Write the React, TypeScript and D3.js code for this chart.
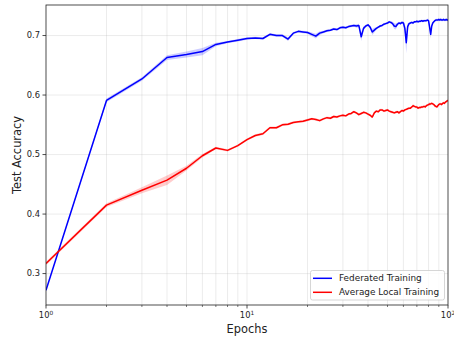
import React from "react";
import * as d3 from "d3";

const epochs: number[] = Array.from({ length: 100 }, (_, i) => i + 1);

const federated: number[] = [
  0.272, 0.591, 0.627, 0.663, 0.668, 0.673, 0.685, 0.689, 0.692, 0.695,
  0.696, 0.695, 0.702, 0.700, 0.700, 0.694, 0.704, 0.707, 0.706, 0.705,
  0.702, 0.699, 0.704, 0.706, 0.708, 0.709, 0.711, 0.710, 0.713, 0.714,
  0.713, 0.715, 0.716, 0.717, 0.716, 0.717, 0.698, 0.712, 0.716, 0.718,
  0.714, 0.706, 0.709, 0.712, 0.714, 0.716, 0.717, 0.719, 0.720, 0.721,
  0.723, 0.722, 0.720, 0.716, 0.715, 0.719, 0.721, 0.720, 0.722, 0.721,
  0.712, 0.688, 0.715, 0.720, 0.721, 0.722, 0.721, 0.723, 0.723, 0.724,
  0.723, 0.724, 0.724, 0.725, 0.724, 0.725, 0.725, 0.725, 0.726, 0.725,
  0.714, 0.702, 0.716, 0.721, 0.723, 0.725, 0.726, 0.726, 0.726, 0.727,
  0.726, 0.727, 0.726, 0.726, 0.727, 0.726, 0.726, 0.727, 0.726, 0.726,
];

const federatedStd: number[] = [
  0.001, 0.003, 0.003, 0.004, 0.005, 0.006, 0.003, 0.002, 0.002, 0.002,
  0.002, 0.002, 0.002, 0.002, 0.002, 0.003, 0.002, 0.002, 0.002, 0.002,
  0.003, 0.004, 0.003, 0.002, 0.002, 0.002, 0.002, 0.002, 0.002, 0.002,
  0.002, 0.002, 0.002, 0.002, 0.003, 0.003, 0.007, 0.004, 0.002, 0.002,
  0.003, 0.005, 0.004, 0.002, 0.002, 0.002, 0.002, 0.002, 0.002, 0.002,
  0.002, 0.002, 0.003, 0.005, 0.005, 0.003, 0.002, 0.002, 0.002, 0.003,
  0.008, 0.018, 0.006, 0.002, 0.002, 0.002, 0.002, 0.002, 0.002, 0.002,
  0.002, 0.002, 0.002, 0.002, 0.002, 0.002, 0.002, 0.002, 0.002, 0.003,
  0.006, 0.007, 0.004, 0.002, 0.002, 0.002, 0.002, 0.002, 0.002, 0.002,
  0.002, 0.002, 0.002, 0.002, 0.002, 0.002, 0.002, 0.002, 0.002, 0.002,
];

const local: number[] = [
  0.317, 0.415, 0.440, 0.457, 0.477, 0.498, 0.511, 0.507, 0.515, 0.525,
  0.532, 0.535, 0.545, 0.545, 0.550, 0.551, 0.554, 0.555, 0.556, 0.558,
  0.560, 0.559, 0.557, 0.560, 0.562, 0.561, 0.564, 0.563, 0.565, 0.566,
  0.565, 0.568, 0.569, 0.572, 0.570, 0.567, 0.569, 0.571, 0.570, 0.568,
  0.566, 0.563, 0.570, 0.573, 0.572, 0.575, 0.575, 0.573, 0.574, 0.575,
  0.573, 0.572, 0.571, 0.570, 0.571, 0.572, 0.570, 0.572, 0.574, 0.573,
  0.575, 0.576, 0.577, 0.578, 0.578, 0.580, 0.582, 0.581, 0.580, 0.580,
  0.578, 0.579, 0.579, 0.580, 0.580, 0.581, 0.580, 0.582, 0.583, 0.584,
  0.585, 0.585, 0.586, 0.585, 0.584, 0.582, 0.581, 0.580, 0.582, 0.584,
  0.585, 0.585, 0.584, 0.586, 0.587, 0.586, 0.588, 0.589, 0.590, 0.591,
];

const localStd: number[] = [
  0.003, 0.003, 0.005, 0.008, 0.004, 0.003, 0.002, 0.002, 0.002, 0.002,
  0.002, 0.002, 0.002, 0.002, 0.002, 0.002, 0.002, 0.002, 0.002, 0.002,
  0.002, 0.002, 0.002, 0.002, 0.002, 0.002, 0.002, 0.002, 0.002, 0.002,
  0.002, 0.002, 0.002, 0.002, 0.002, 0.002, 0.002, 0.002, 0.002, 0.002,
  0.002, 0.002, 0.002, 0.002, 0.002, 0.002, 0.002, 0.002, 0.002, 0.002,
  0.002, 0.002, 0.002, 0.002, 0.002, 0.002, 0.002, 0.002, 0.002, 0.002,
  0.002, 0.002, 0.002, 0.002, 0.002, 0.002, 0.003, 0.002, 0.002, 0.002,
  0.002, 0.002, 0.002, 0.002, 0.002, 0.002, 0.002, 0.002, 0.002, 0.002,
  0.003, 0.002, 0.002, 0.002, 0.002, 0.003, 0.002, 0.002, 0.002, 0.002,
  0.002, 0.002, 0.002, 0.002, 0.002, 0.002, 0.002, 0.002, 0.002, 0.002,
];

const yTicks: number[] = [0.3, 0.4, 0.5, 0.6, 0.7];
const xMajor: number[] = [1, 10, 100];
const xMinor: number[] = [2, 3, 4, 5, 6, 7, 8, 9, 20, 30, 40, 50, 60, 70, 80, 90];
const seriesNames: string[] = ["Federated Training", "Average Local Training"];
const seriesColors: string[] = ["#0000ff", "#ff0000"];

const W = 454;
const H = 337;
const L = 46;
const R = 448;
const T = 5;
const B = 305;

export default function App() {
  const x = d3.scaleLog().domain([1, 100]).range([L, R]);
  const y = d3.scaleLinear().domain([0.2472, 0.7513]).range([B, T]);
  const font = "DejaVu Sans, sans-serif";

  const line = d3
    .line<number>()
    .x((_, i) => x(epochs[i]))
    .y((d) => y(d));

  const band = (vals: number[], std: number[]) =>
    d3
      .area<number>()
      .x((_, i) => x(epochs[i]))
      .y0((d, i) => y(d - std[i]))
      .y1((d, i) => y(d + std[i]))(vals) as string;

  const series = [
    { v: federated, s: federatedStd },
    { v: local, s: localStd },
  ];

  return (
    <svg
      width={W}
      height={H}
      style={{ position: "fixed", left: 0, top: 0, background: "#fff" }}
      fontFamily={font}
    >
      <rect x={0} y={0} width={W} height={H} fill="#fff" />
      <defs>
        <clipPath id="plot">
          <rect x={L} y={T} width={R - L} height={B - T} />
        </clipPath>
      </defs>
      {/* grid */}
      <g stroke="#b0b0b0" strokeOpacity={0.3} strokeWidth={0.8}>
        {[...xMinor, 10].map((t) => (
          <line key={"gx" + t} x1={x(t)} x2={x(t)} y1={T} y2={B} />
        ))}
        {yTicks.map((t) => (
          <line key={"gy" + t} x1={L} x2={R} y1={y(t)} y2={y(t)} />
        ))}
      </g>
      <g clipPath="url(#plot)">
        {series.map((sr, k) => (
          <path key={"b" + k} d={band(sr.v, sr.s)} fill={seriesColors[k]} fillOpacity={0.2} stroke="none" />
        ))}
        {series.map((sr, k) => (
          <path
            key={"l" + k}
            d={line(sr.v) as string}
            fill="none"
            stroke={seriesColors[k]}
            strokeWidth={1.5}
            strokeLinejoin="round"
          />
        ))}
      </g>
      {/* spines */}
      <rect x={L} y={T} width={R - L} height={B - T} fill="none" stroke="#222" strokeWidth={0.8} />
      {/* y ticks */}
      {yTicks.map((t) => (
        <g key={"yt" + t}>
          <line x1={L - 3.5} x2={L} y1={y(t)} y2={y(t)} stroke="#222" strokeWidth={0.8} />
          <text x={L - 6} y={y(t)} dy="0.35em" textAnchor="end" fontSize={8.3} fill="#222">
            {t.toFixed(1)}
          </text>
        </g>
      ))}
      {/* x ticks */}
      {xMinor.map((t) => (
        <line key={"xm" + t} x1={x(t)} x2={x(t)} y1={B} y2={B + 2} stroke="#222" strokeWidth={0.6} />
      ))}
      {xMajor.map((t) => (
        <g key={"xt" + t}>
          <line x1={x(t)} x2={x(t)} y1={B} y2={B + 3.5} stroke="#222" strokeWidth={0.8} />
          <text x={x(t)} y={B + 13} textAnchor="middle" fontSize={8.3} fill="#222">
            10
            <tspan dy={-3.5} fontSize={5.8}>
              {Math.round(Math.log10(t))}
            </tspan>
          </text>
        </g>
      ))}
      <text x={(L + R) / 2} y={333} textAnchor="middle" fontSize={11.4} fill="#222">
        Epochs
      </text>
      <text
        transform={`translate(21,${(T + B) / 2}) rotate(-90)`}
        textAnchor="middle"
        fontSize={11.4}
        fill="#222"
      >
        Test Accuracy
      </text>
      {/* legend */}
      <g>
        <rect x={310.5} y={270.5} width={134} height={29.5} rx={2} fill="#fff" fillOpacity={0.8} stroke="#ccc" strokeWidth={0.8} />
        {seriesNames.map((n, k) => (
          <g key={"lg" + k}>
            <line
              x1={313}
              x2={332}
              y1={278.3 + k * 14}
              y2={278.3 + k * 14}
              stroke={seriesColors[k]}
              strokeWidth={1.5}
            />
            <text x={339} y={278.3 + k * 14} dy="0.35em" fontSize={8.9} fill="#222">
              {n}
            </text>
          </g>
        ))}
      </g>
    </svg>
  );
}
